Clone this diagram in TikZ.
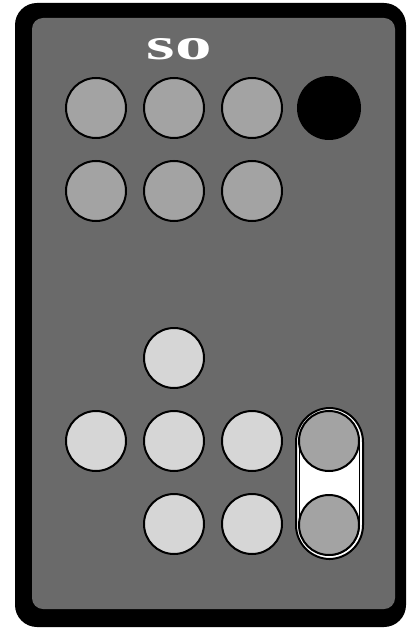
\documentclass[tikz,border=0pt]{standalone}
\usepackage{fontspec}
\setmainfont{Liberation Serif}
\usepackage{graphicx}
\definecolor{panel}{HTML}{6A6A6A}
\definecolor{btndark}{HTML}{A3A3A3}
\definecolor{btnlight}{HTML}{D6D6D6}
\begin{document}
\begin{tikzpicture}[x=1pt,y=-1pt,
  btn/.style={circle,draw=black,line width=2pt,minimum size=60pt,inner sep=0pt},
  dk/.style={btn,fill=btndark},
  lt/.style={btn,fill=btnlight}]
\useasboundingbox (0,0) rectangle (408,628);
\fill[black,rounded corners=22pt] (15,3) rectangle (406,627);
\fill[panel,rounded corners=11pt] (32,18) rectangle (395,609);
\node[text=white,inner sep=0pt] (lbl) at (179.5,49.5) {\resizebox{65pt}{21pt}{\bfseries so}};
% pill
\draw[line width=2pt,fill=white,rounded corners=34pt] (296,408) rectangle (363,559);
\draw[line width=0.9pt,rounded corners=31pt] (299.5,411.5) rectangle (359.5,555.5);
% row 1
\node[dk] (a1) at (96,108) {};
\node[dk] (a2) at (174,108) {};
\node[dk] (a3) at (252,108) {};
\node[btn,fill=black,minimum size=62pt] (a4) at (329,108) {};
% row 2
\node[dk] (b1) at (96,191) {};
\node[dk] (b2) at (174,191) {};
\node[dk] (b3) at (252,191) {};
% row 3
\node[lt] (c2) at (174,358) {};
% row 4
\node[lt] (d1) at (96,441) {};
\node[lt] (d2) at (174,441) {};
\node[lt] (d3) at (252,441) {};
\node[dk] (d4) at (329,441) {};
% row 5
\node[lt] (e2) at (174,524) {};
\node[lt] (e3) at (252,524) {};
\node[dk] (e4) at (329,525) {};
\end{tikzpicture}
\end{document}
